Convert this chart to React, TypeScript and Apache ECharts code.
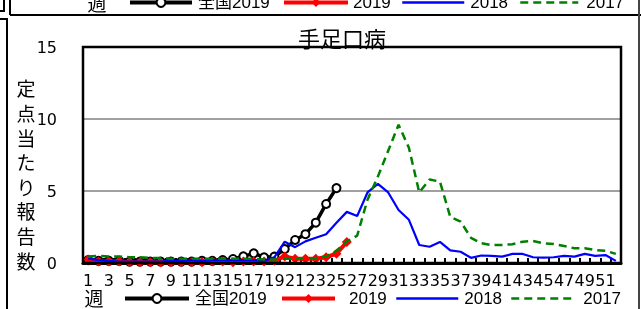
import React, { useEffect, useRef } from "react";
import * as echarts from "echarts";

const weeks = ["1","2","3","4","5","6","7","8","9","10","11","12","13","14","15","16","17","18","19","20","21","22","23","24","25","26","27","28","29","30","31","32","33","34","35","36","37","38","39","40","41","42","43","44","45","46","47","48","49","50","51","52"];

const national2019 = [0.2,0.15,0.15,0.15,0.1,0.1,0.1,0.1,0.1,0.1,0.1,0.15,0.15,0.2,0.28,0.46,0.67,0.4,0.44,0.97,1.6,2.0,2.8,4.1,5.2];

const pref2019 = [0.25,0.1,0.1,0.1,0.05,0.05,0.05,0.05,0.05,0.05,0.05,0.05,0.1,0.1,0.05,0.1,0.1,0.1,0.15,0.45,0.3,0.3,0.3,0.4,0.65,1.45];

const pref2018 = [0.3,0.2,0.15,0.1,0.1,0.1,0.1,0.1,0.15,0.15,0.2,0.15,0.2,0.2,0.2,0.2,0.2,0.15,0.4,1.48,1.1,1.5,1.75,2.0,2.8,3.55,3.26,4.9,5.5,4.9,3.68,3.0,1.25,1.13,1.46,0.88,0.78,0.36,0.52,0.49,0.44,0.63,0.63,0.4,0.37,0.4,0.49,0.44,0.63,0.49,0.55,0.15];

const pref2017 = [0.45,0.5,0.45,0.45,0.4,0.4,0.35,0.35,0.3,0.3,0.3,0.3,0.3,0.3,0.3,0.3,0.3,0.25,0.25,0.3,0.3,0.3,0.35,0.45,0.85,1.5,1.9,4.4,6.0,7.8,9.6,8.0,4.9,5.8,5.65,3.2,2.87,1.75,1.37,1.25,1.25,1.3,1.48,1.53,1.37,1.32,1.18,1.02,1.02,0.9,0.85,0.63];

const seriesNames = ["全国2019", "2019", "2018", "2017"];
const yTicks = { min: 0, max: 15, interval: 5 };

export default function App() {
  const ref = useRef<HTMLDivElement>(null);
  useEffect(() => {
    const chart = echarts.init(ref.current!, null, { renderer: "svg" });
    const font = "'Liberation Sans', 'Noto Sans CJK JP', sans-serif";
    const numFont = "'DejaVu Sans', sans-serif";
    const cjk = "'Noto Sans CJK JP', sans-serif";
    const itemExtras = [
      { lineStyle: { width: 4 } },
      { lineStyle: { width: 4 } },
      { lineStyle: { width: 2.5 }, itemStyle: { opacity: 0 } },
      { lineStyle: { width: 2.5 }, itemStyle: { opacity: 0 } },
    ];
    // legend placement: [left, iconWidth, textPadLeft]
    const bottomPlace = [[123, 64, 1], [280, 53, 9], [395, 62, 1], [510, 63, 4]];
    const topPlace = [[128, 62, 1], [282, 64, 0], [401, 62, 1], [519, 58, 3]];
    const makeLegends = (place: number[][], top: number) =>
      seriesNames.map((name, i) => ({
        orient: "horizontal",
        left: place[i][0],
        top,
        itemWidth: place[i][1],
        itemHeight: 11,
        padding: 0,
        data: [{ name, ...itemExtras[i] }],
        textStyle: { color: "#000", fontSize: 17, fontFamily: font, padding: [0, 0, 0, place[i][2]] },
      }));
    chart.setOption({
      animation: false,
      grid: { left: 83, top: 47, width: 538, height: 216, show: false },
      legend: [...makeLegends(bottomPlace, 290), ...makeLegends(topPlace, -6)],
      xAxis: {
        type: "category",
        data: weeks,
        boundaryGap: true,
        axisLine: { lineStyle: { color: "#000", width: 3 } },
        axisTick: { show: true, inside: true, length: 5, interval: 0, lineStyle: { color: "#000", width: 2 } },
        axisLabel: { interval: 1, color: "#000", fontSize: 16, fontFamily: numFont, margin: 9 },
      },
      yAxis: {
        type: "value",
        min: yTicks.min,
        max: yTicks.max,
        interval: yTicks.interval,
        axisLine: { show: true, lineStyle: { color: "#000", width: 2 } },
        axisTick: { show: false },
        axisLabel: { color: "#000", fontSize: 16, fontFamily: numFont, margin: 26 },
        splitLine: { lineStyle: { color: "#a0a0a0", width: 2 } },
      },
      series: [
        {
          name: seriesNames[0], type: "line", data: national2019,
          symbol: "circle", symbolSize: 8, showAllSymbol: true,
          itemStyle: { color: "#fff", borderColor: "#000", borderWidth: 2 },
          lineStyle: { color: "#000", width: 3.5 }, z: 2,
        },
        {
          name: seriesNames[1], type: "line", data: pref2019,
          symbol: "diamond", symbolSize: 10, showAllSymbol: true,
          itemStyle: { color: "#ff0000" },
          lineStyle: { color: "#ff0000", width: 4 }, z: 3,
        },
        {
          name: seriesNames[2], type: "line", data: pref2018,
          symbol: "none", itemStyle: { color: "#0000ff" },
          lineStyle: { color: "#0000ff", width: 2.2 }, z: 4,
        },
        {
          name: seriesNames[3], type: "line", data: pref2017,
          symbol: "none", itemStyle: { color: "#008000" },
          lineStyle: { color: "#008000", width: 2.5, type: [8, 5] }, z: 5,
        },
      ],
      graphic: [
        { type: "rect", z: 50, shape: { x: 83, y: 47, width: 538, height: 216 }, style: { fill: "none", stroke: "#000", lineWidth: 2.5 } },
        { type: "line", z: 50, shape: { x1: 10, y1: 0, x2: 10, y2: 15 }, style: { stroke: "#000", lineWidth: 2 } },
        { type: "line", z: 50, shape: { x1: 10, y1: 15, x2: 641, y2: 15 }, style: { stroke: "#000", lineWidth: 2 } },
        { type: "line", z: 50, shape: { x1: 0, y1: 19, x2: 8, y2: 19 }, style: { stroke: "#000", lineWidth: 2 } },
        { type: "line", z: 50, shape: { x1: 7, y1: 18, x2: 7, y2: 309 }, style: { stroke: "#000", lineWidth: 2 } },
        { type: "line", z: 50, shape: { x1: 639, y1: 0, x2: 639, y2: 309 }, style: { stroke: "#444", lineWidth: 2 } },
        { type: "polyline", z: 50, shape: { points: [[0, 11], [4, 11], [4, 0]] }, style: { stroke: "#000", lineWidth: 2, fill: "none" } },
        { type: "text", z: 60, x: 342, y: 37, style: { text: "手足口病", fontSize: 22, fontFamily: cjk, fill: "#000", align: "center", verticalAlign: "middle" } },
        { type: "text", z: 60, x: 26, y: 174, style: { text: "定\n点\n当\nた\nり\n報\n告\n数", fontSize: 19, lineHeight: 24.6, fontFamily: cjk, fill: "#000", align: "center", verticalAlign: "middle" } },
        { type: "text", z: 60, x: 94, y: 297, style: { text: "週", fontSize: 19, fontFamily: cjk, fill: "#000", align: "center", verticalAlign: "middle" } },
        { type: "text", z: 60, x: 97, y: 2, style: { text: "週", fontSize: 19, fontFamily: cjk, fill: "#000", align: "center", verticalAlign: "middle" } },
      ],
    });
    return () => chart.dispose();
  }, []);
  return <div ref={ref} style={{ position: "fixed", left: 0, top: 0, width: 641, height: 309 }} />;
}
